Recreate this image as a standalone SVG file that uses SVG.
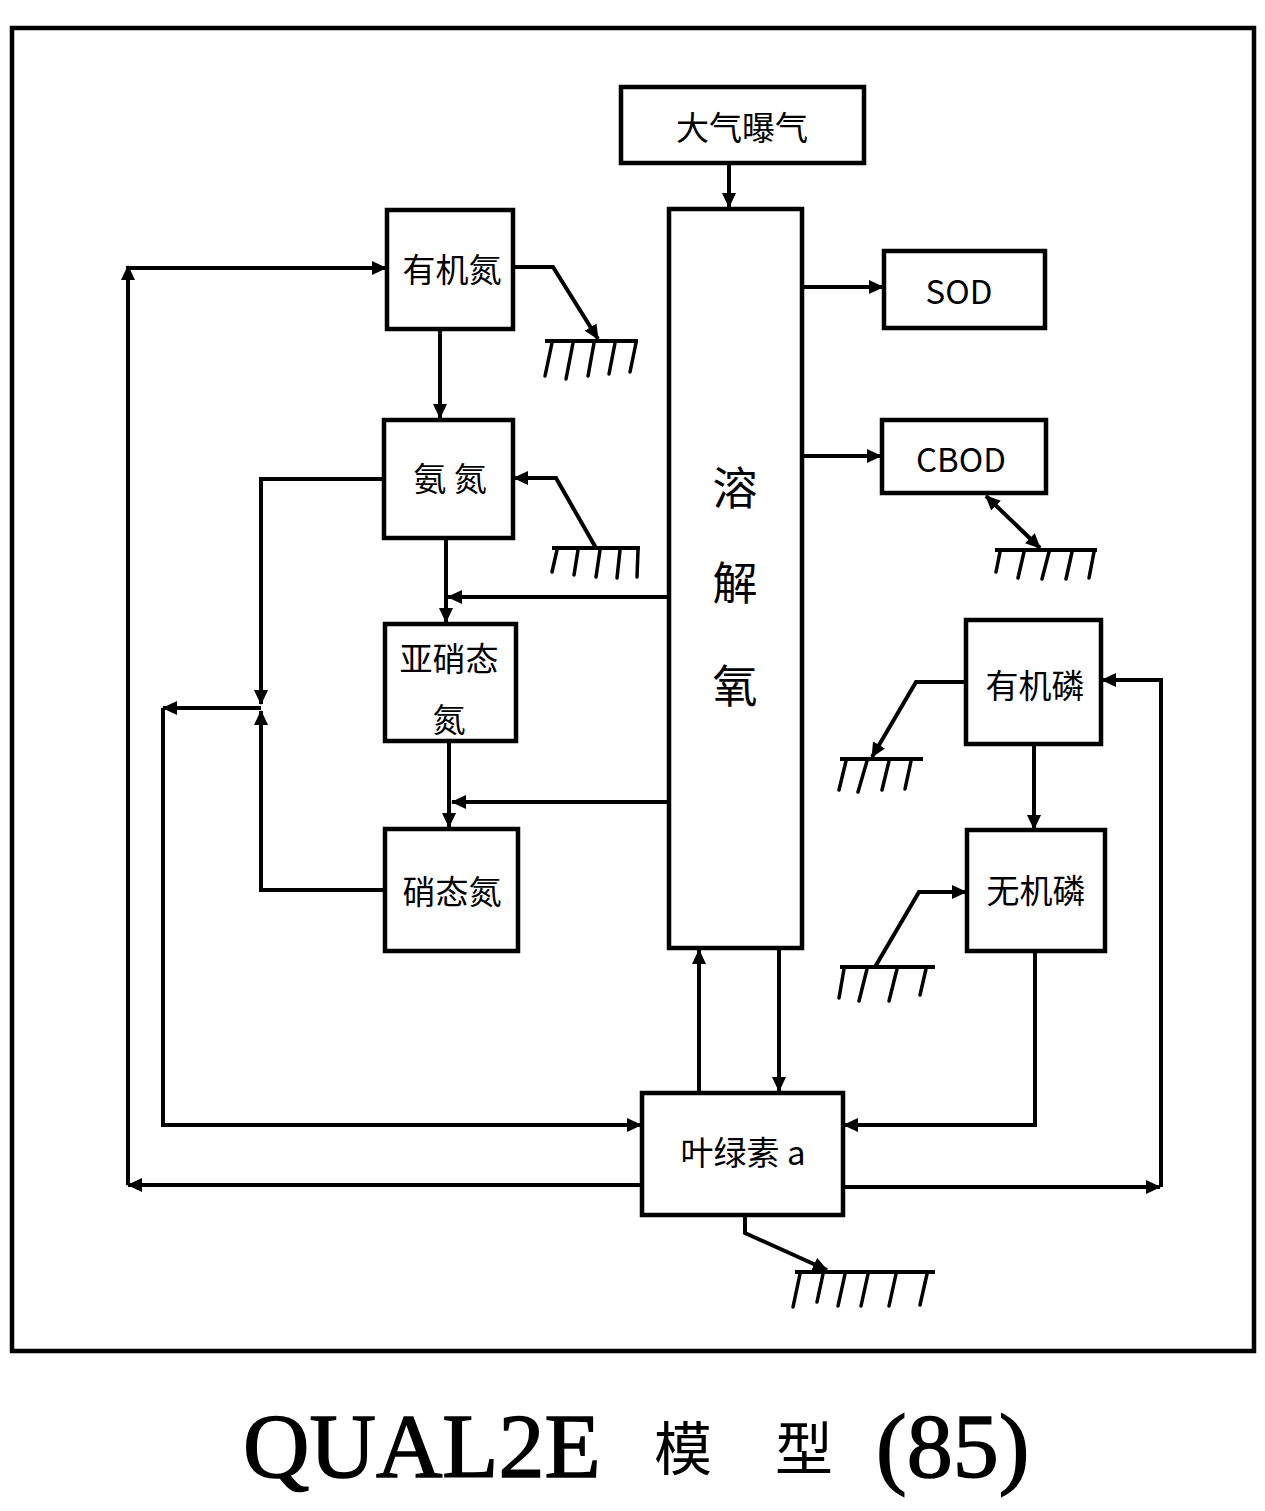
<svg xmlns="http://www.w3.org/2000/svg" width="1265" height="1511" viewBox="0 0 1265 1511">
  <style>
    .box { fill: #fff; stroke: #000; stroke-width: 4.5; }
    .lbl { font-family: "Noto Sans CJK SC", "Noto Sans", sans-serif; font-size: 33px; fill: #000; text-anchor: middle; dominant-baseline: central; }
    .big { font-size: 45px; }
    .wire { fill: none; stroke: #000; stroke-width: 4; stroke-linejoin: miter; }
    .ground { fill: none; stroke: #000; stroke-width: 4; }
    .hatch { fill: none; stroke: #000; stroke-width: 3.5; stroke-linecap: round; }
    .title { font-family: "Liberation Serif", "Noto Sans CJK SC", serif; font-size: 92px; fill: #000; stroke: #000; stroke-width: 1.5; }
    .titlecjk { font-family: "Noto Sans CJK SC", sans-serif; font-size: 58px; fill: #000; }
  </style>
  <defs>
    <marker id="ah" markerUnits="userSpaceOnUse" markerWidth="16" markerHeight="14" refX="14" refY="7" orient="auto">
      <path d="M0,0 L15,7 L0,14 Z" fill="#000"/>
    </marker>
    <marker id="ahs" markerUnits="userSpaceOnUse" markerWidth="16" markerHeight="14" refX="1" refY="7" orient="auto">
      <path d="M15,0 L0,7 L15,14 Z" fill="#000"/>
    </marker>
  </defs>

  <rect x="0" y="0" width="1265" height="1511" fill="#fff"/>
  <!-- outer frame -->
  <rect x="12" y="28" width="1242" height="1323" fill="none" stroke="#000" stroke-width="4.5"/>

  <!-- connectors -->
  <g id="connectors">
    <path class="wire" d="M729,163 V207" marker-end="url(#ah)"/>
    <path class="wire" d="M802,287 H883" marker-end="url(#ah)"/>
    <path class="wire" d="M802,456 H881" marker-end="url(#ah)"/>
    <path class="wire" d="M440,329 V418" marker-end="url(#ah)"/>
    <path class="wire" d="M446,538 V622" marker-end="url(#ah)"/>
    <path class="wire" d="M669,597 H448" marker-end="url(#ah)"/>
    <path class="wire" d="M449,741 V827" marker-end="url(#ah)"/>
    <path class="wire" d="M669,802 H452" marker-end="url(#ah)"/>
    <!-- nitrogen uptake by algae -->
    <path class="wire" d="M384,479 H261 V704" marker-end="url(#ah)"/>
    <path class="wire" d="M385,890 H261 V711" marker-end="url(#ah)"/>
    <path class="wire" d="M261,708 H163" marker-end="url(#ah)"/>
    <path class="wire" d="M163,708 V1125 H641" marker-end="url(#ah)"/>
    <!-- algal death to organic N -->
    <path class="wire" d="M642,1185 H128" marker-end="url(#ah)"/>
    <path class="wire" d="M128,1185 V266" marker-end="url(#ah)"/>
    <path class="wire" d="M128,268 H386" marker-end="url(#ah)"/>
    <!-- algal death to organic P -->
    <path class="wire" d="M843,1187 H1160" marker-end="url(#ah)"/>
    <path class="wire" d="M1161,1187 V680 H1102" marker-end="url(#ah)"/>
    <path class="wire" d="M1034,744 V829" marker-end="url(#ah)"/>
    <path class="wire" d="M1035,951 V1125 H844" marker-end="url(#ah)"/>
    <!-- oxygen exchange with algae -->
    <path class="wire" d="M699,1093 V950" marker-end="url(#ah)"/>
    <path class="wire" d="M779,948 V1091" marker-end="url(#ah)"/>
    <!-- sediment links -->
    <path class="wire" d="M513,267 H553 L598,339" marker-end="url(#ah)"/>
    <path class="wire" d="M596,548 L556,478 H514" marker-end="url(#ah)"/>
    <path class="wire" d="M1040,548 L986,496" marker-start="url(#ahs)" marker-end="url(#ah)"/>
    <path class="wire" d="M966,682 H916 L872,757" marker-end="url(#ah)"/>
    <path class="wire" d="M875,967 L919,892 H966" marker-end="url(#ah)"/>
    <path class="wire" d="M745,1215 V1233 L827,1270" marker-end="url(#ah)"/>
  </g>

  <!-- sediment beds -->
  <g id="sediment">
    <path class="ground" d="M545,341 H638"/>
    <path class="hatch" d="M552,343 L545,376 M573,343 L566,379 M594,343 L588,376 M615,343 L609,374 M636,343 L630,372"/>
    <path class="ground" d="M552,548 H640"/>
    <path class="hatch" d="M557,550 L552,572 M578,550 L574,575 M600,550 L596,577 M620,550 L617,578 M638,550 L637,577"/>
    <path class="ground" d="M995,550 H1097"/>
    <path class="hatch" d="M1000,552 L996,572 M1024,552 L1018,578 M1049,552 L1042,579 M1072,552 L1066,579 M1094,552 L1089,578"/>
    <path class="ground" d="M840,759 H923"/>
    <path class="hatch" d="M846,761 L839,790 M867,761 L858,792 M889,761 L882,790 M911,761 L905,789"/>
    <path class="ground" d="M840,967 H935"/>
    <path class="hatch" d="M844,969 L839,998 M867,969 L859,1001 M897,969 L889,1001 M926,969 L920,995"/>
    <path class="ground" d="M795,1272 H935"/>
    <path class="hatch" d="M800,1274 L793,1307 M823,1274 L817,1302 M845,1274 L838,1306 M868,1274 L861,1306 M896,1274 L889,1306 M927,1274 L920,1305"/>
  </g>

  <!-- nodes -->
  <g id="aeration"><rect class="box" x="621" y="87" width="243" height="76"/><text class="lbl" x="742" y="126">大气曝气</text></g>
  <g id="dissolved-oxygen">
    <rect class="box" x="669" y="209" width="133" height="739"/>
    <text class="lbl big" x="735" y="485">溶</text>
    <text class="lbl big" x="735" y="580">解</text>
    <text class="lbl big" x="735" y="683">氧</text>
  </g>
  <g id="sod"><rect class="box" x="884" y="251" width="161" height="77"/><text class="lbl" x="959" y="290">SOD</text></g>
  <g id="cbod"><rect class="box" x="882" y="420" width="164" height="73"/><text class="lbl" x="961" y="458">CBOD</text></g>
  <g id="organic-n"><rect class="box" x="387" y="210" width="126" height="119"/><text class="lbl" x="452" y="268">有机氮</text></g>
  <g id="ammonia-n"><rect class="box" x="384" y="420" width="129" height="118"/><text class="lbl" x="450" y="477">氨 氮</text></g>
  <g id="nitrite-n">
    <rect class="box" x="385" y="624" width="131" height="117"/>
    <text class="lbl" x="449" y="657">亚硝态</text>
    <text class="lbl" x="449" y="718">氮</text>
  </g>
  <g id="nitrate-n"><rect class="box" x="385" y="829" width="133" height="122"/><text class="lbl" x="452" y="890">硝态氮</text></g>
  <g id="organic-p"><rect class="box" x="966" y="620" width="135" height="124"/><text class="lbl" x="1035" y="684">有机磷</text></g>
  <g id="inorganic-p"><rect class="box" x="967" y="830" width="138" height="121"/><text class="lbl" x="1036" y="889">无机磷</text></g>
  <g id="chlorophyll-a"><rect class="box" x="642" y="1093" width="201" height="122"/><text class="lbl" x="743" y="1151">叶绿素 a</text></g>

  <!-- caption -->
  <g id="caption">
    <text class="title" x="243" y="1477">QUAL2E</text>
    <text class="titlecjk" x="654" y="1470">模</text>
    <text class="titlecjk" x="775" y="1470">型</text>
    <text class="title" x="876" y="1477">(85)</text>
  </g>
</svg>
